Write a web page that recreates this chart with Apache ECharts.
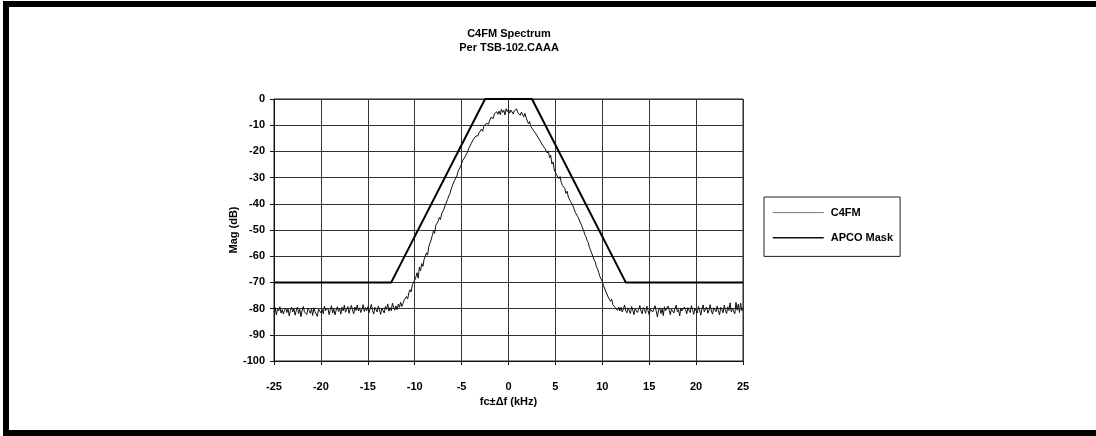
<!DOCTYPE html>
<html>
<head>
<meta charset="utf-8">
<script src="https://cdn.jsdelivr.net/npm/echarts@6/dist/echarts.min.js"></script>
<style>
html,body{margin:0;padding:0;background:#fff;}
#chart{width:1096px;height:436px;}
</style>
</head>
<body>
<div id="chart"></div>
<script>
const titleLines = ['C4FM Spectrum', 'Per TSB-102.CAAA'];
const xAxisName = 'fc\u00B1\u0394f (kHz)';
const yAxisName = 'Mag (dB)';
const seriesNames = ['C4FM', 'APCO Mask'];

// C4FM spectrum samples; first sample at freqStart, spacing freqStep (kHz)
const freqStart = -25;
const freqStep = 0.125;
const c4fmDb = [
  -81.2,-79.6,-82.4,-80.1,-80.9,-79.3,-81.7,-80.4,
  -82.1,-80.6,-79.8,-81.5,-80.2,-82.8,-80.7,-79.5,
  -81.3,-80.0,-82.5,-80.8,-79.4,-81.9,-80.3,-83.1,
  -80.6,-79.2,-81.4,-80.9,-82.2,-79.9,-80.7,-81.8,
  -80.1,-82.6,-79.7,-81.2,-80.5,-83.0,-80.2,-79.6,
  -81.6,-80.3,-82.0,-79.1,-80.8,-81.5,-79.9,-82.3,
  -80.4,-78.9,-81.7,-80.2,-82.4,-80.6,-79.3,-81.1,
  -80.0,-82.1,-79.5,-80.9,-78.7,-81.4,-80.3,-79.2,
  -81.8,-80.1,-78.8,-80.6,-82.0,-79.4,-80.7,-78.6,
  -80.9,-79.7,-81.5,-80.2,-78.5,-81.1,-79.6,-80.8,
  -79.3,-81.6,-80.0,-78.4,-80.7,-82.1,-79.5,-80.4,
  -81.3,-79.0,-80.6,-82.2,-79.8,-80.5,-81.7,-79.2,
  -80.3,-78.2,-81.0,-79.6,-80.8,-77.9,-79.4,-80.6,
  -79.0,-80.4,-78.3,-79.5,-77.6,-79.2,-78.0,-76.8,
  -77.5,-75.4,-76.3,-74.0,-72.8,-73.6,-70.9,-71.5,
  -69.2,-68.0,-66.3,-68.4,-64.1,-65.5,-62.8,-63.9,
  -61.2,-60.0,-58.7,-59.6,-56.3,-56.9,-53.8,-52.1,
  -50.4,-51.3,-48.2,-48.9,-46.7,-45.2,-46.0,-43.8,
  -43.1,-42.0,-40.6,-41.3,-38.4,-37.0,-36.2,-34.5,
  -33.2,-33.9,-31.0,-30.2,-29.4,-27.6,-28.3,-25.9,
  -25.3,-23.4,-23.9,-22.0,-21.1,-20.3,-19.0,-19.6,
  -17.2,-16.8,-15.4,-16.1,-14.2,-13.6,-14.0,-12.8,
  -12.2,-11.5,-12.3,-10.4,-10.9,-9.3,-8.8,-9.6,
  -8.1,-7.0,-6.3,-7.4,-5.6,-6.2,-4.9,-5.8,
  -4.6,-6.0,-3.9,-5.1,-4.3,-6.1,-3.7,-4.8,
  -3.9,-5.4,-4.2,-3.6,-5.7,-4.4,-5.0,-3.8,
  -5.3,-4.6,-6.2,-5.0,-4.3,-6.8,-5.5,-7.1,
  -7.8,-9.4,-8.6,-10.5,-9.9,-11.8,-11.2,-13.0,
  -12.6,-14.5,-13.8,-16.0,-15.3,-17.6,-16.9,-18.8,
  -19.3,-20.6,-19.8,-22.4,-21.5,-24.8,-24.0,-27.1,
  -26.5,-28.9,-28.2,-30.4,-29.6,-31.8,-33.0,-32.4,
  -34.1,-36.0,-35.2,-37.4,-36.7,-39.2,-38.5,-40.8,
  -41.5,-43.3,-42.6,-44.9,-45.8,-46.4,-47.9,-48.6,
  -50.1,-51.7,-52.5,-54.0,-54.8,-56.6,-57.2,-58.9,
  -59.6,-61.4,-62.2,-64.0,-64.9,-66.3,-67.8,-68.5,
  -69.7,-71.2,-70.8,-73.5,-73.0,-75.6,-74.9,-77.2,
  -76.4,-78.5,-77.8,-79.6,-78.9,-80.7,-79.4,-80.9,
  -79.5,-81.3,-80.2,-78.6,-80.8,-81.6,-79.7,-80.4,
  -81.9,-79.2,-80.6,-82.3,-80.0,-79.4,-81.5,-80.3,
  -78.8,-80.9,-82.0,-79.6,-80.4,-81.8,-79.1,-80.7,
  -82.4,-80.2,-79.5,-81.3,-80.6,-78.9,-81.0,-83.2,
  -80.5,-79.7,-81.9,-80.1,-82.7,-79.3,-80.8,-81.4,
  -79.0,-80.6,-82.3,-80.2,-79.5,-81.7,-80.0,-78.7,
  -81.2,-80.4,-82.8,-79.8,-80.9,-81.6,-79.4,-80.3,
  -82.0,-79.6,-80.7,-81.5,-78.9,-80.4,-82.2,-79.9,
  -80.8,-81.7,-79.2,-80.5,-82.5,-80.1,-78.6,-81.3,
  -80.2,-79.4,-81.8,-80.6,-78.5,-80.9,-82.1,-79.7,
  -80.4,-81.2,-79.0,-80.8,-82.4,-79.5,-80.3,-81.6,
  -78.7,-80.5,-81.9,-79.3,-80.7,-77.8,-81.2,-80.0,
  -79.4,-82.0,-77.6,-80.6,-78.3,-81.5,-77.9,-80.8,
  -79.6
];

// APCO mask corner points
const maskFreq = [-25, -12.5, -2.5, 2.5, 12.5, 25];
const maskDb = [-70, -70, 0, 0, -70, -70];

// axis ranges
const xMin = -25, xMax = 25, xInterval = 5;
const yMin = -100, yMax = 0, yInterval = 10;

const FONT = '"Liberation Sans", Arial, Helvetica, sans-serif';

const c4fmData = c4fmDb.map((v, i) => [freqStart + i * freqStep, v]);
const maskData = maskFreq.map((f, i) => [f, maskDb[i]]);

const chart = echarts.init(document.getElementById('chart'), null, {renderer: 'canvas'});
chart.setOption({
  animation: false,
  backgroundColor: '#fff',
  textStyle: {fontFamily: FONT},
  graphic: [
    {
      type: 'rect',
      shape: {x: 6, y: 4, width: 1200, height: 429},
      style: {fill: 'none', stroke: '#000', lineWidth: 6},
      silent: true
    },
    {
      type: 'text',
      x: 509, y: 27,
      style: {
        text: titleLines.join('\n'),
        textAlign: 'center',
        textVerticalAlign: 'top',
        font: 'bold 11px ' + FONT,
        lineHeight: 14,
        fill: '#000'
      }
    }
  ],
  grid: {
    left: 274, right: 353, top: 99, bottom: 75,
    show: true, borderColor: '#222', borderWidth: 1, containLabel: false
  },
  legend: {
    orient: 'vertical',
    left: 764, top: 197,
    padding: [10, 7, 13, 8],
    itemGap: 14,
    itemWidth: 51,
    itemHeight: 14,
    borderColor: '#222',
    borderWidth: 1,
    borderRadius: 0,
    textStyle: {fontFamily: FONT, fontWeight: 'bold', fontSize: 11, color: '#000', padding: [0, 0, 0, 2]},
    data: [
      {name: seriesNames[0], itemStyle: {opacity: 0}, lineStyle: {color: '#777', width: 1}},
      {name: seriesNames[1], itemStyle: {opacity: 0}, lineStyle: {color: '#111', width: 1.5}}
    ]
  },
  xAxis: {
    type: 'value',
    min: xMin, max: xMax, interval: xInterval,
    name: xAxisName,
    nameLocation: 'middle',
    nameGap: 33,
    nameTextStyle: {fontFamily: FONT, fontWeight: 'bold', fontSize: 11, color: '#000'},
    axisLine: {show: true, onZero: false, lineStyle: {color: '#111', width: 1}},
    axisTick: {show: true, length: 4, lineStyle: {color: '#111'}},
    axisLabel: {margin: 20, fontFamily: FONT, fontWeight: 'bold', fontSize: 11, color: '#000'},
    splitLine: {show: true, lineStyle: {color: '#333', width: 1}}
  },
  yAxis: {
    type: 'value',
    min: yMin, max: yMax, interval: yInterval,
    name: yAxisName,
    nameLocation: 'middle',
    nameGap: 34,
    nameRotate: 90,
    nameTextStyle: {fontFamily: FONT, fontWeight: 'bold', fontSize: 11, color: '#000'},
    axisLine: {show: true, onZero: false, lineStyle: {color: '#111', width: 1}},
    axisTick: {show: true, length: 4, lineStyle: {color: '#111'}},
    axisLabel: {margin: 9, fontFamily: FONT, fontWeight: 'bold', fontSize: 11, color: '#000'},
    splitLine: {show: true, lineStyle: {color: '#333', width: 1}}
  },
  series: [
    {
      name: seriesNames[0],
      type: 'line',
      data: c4fmData,
      showSymbol: false,
      symbol: 'none',
      lineStyle: {color: '#111', width: 1},
      itemStyle: {color: '#111'},
      z: 3
    },
    {
      name: seriesNames[1],
      type: 'line',
      data: maskData,
      showSymbol: false,
      symbol: 'none',
      lineStyle: {color: '#000', width: 2},
      itemStyle: {color: '#000'},
      z: 4
    }
  ]
});
</script>
</body>
</html>
